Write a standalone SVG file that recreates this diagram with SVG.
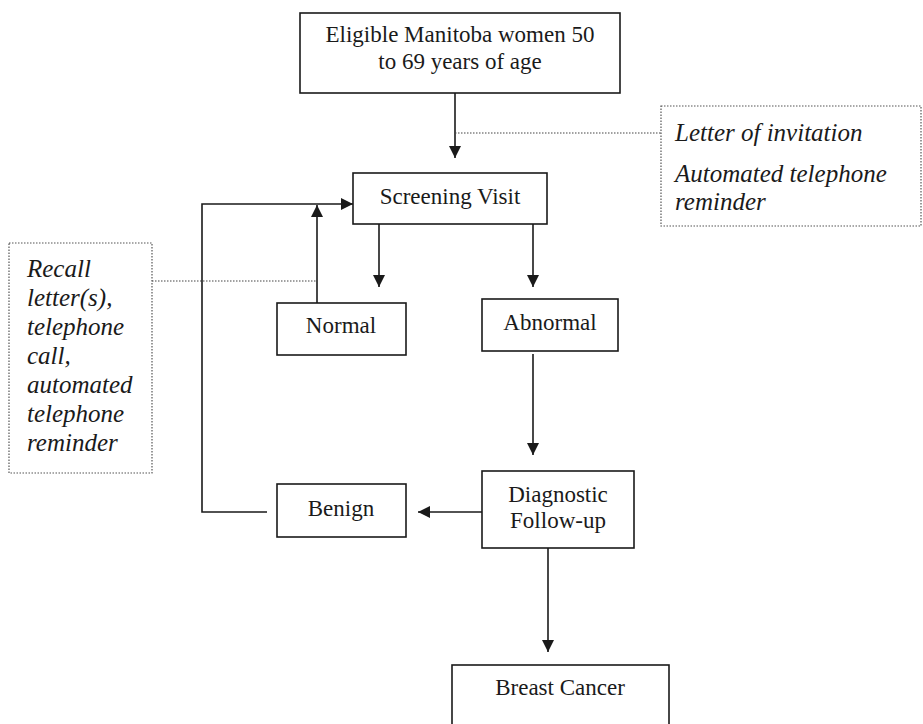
<svg xmlns="http://www.w3.org/2000/svg" width="923" height="724" viewBox="0 0 923 724">
<style>
.box{fill:#fff;stroke:#1a1a1a;stroke-width:1.6}
.note{fill:#fff;stroke:#555;stroke-width:1.2;stroke-dasharray:1.5 1.5}
.t{font-family:"Liberation Serif","Times New Roman",serif;font-size:23px;fill:#1a1a1a}
.i{font-family:"Liberation Serif","Times New Roman",serif;font-size:25px;font-style:italic;fill:#1a1a1a}
.ln{fill:none;stroke:#1a1a1a;stroke-width:1.6}
.dot{fill:none;stroke:#444;stroke-width:1.2;stroke-dasharray:1.5 1.5}
</style>
<defs>
<marker id="ah" viewBox="0 0 12 12" refX="12" refY="6" markerWidth="12" markerHeight="12" markerUnits="userSpaceOnUse" orient="auto">
<path d="M0,0 L12,6 L0,12 Z" fill="#1a1a1a"/>
</marker>
</defs>
<rect width="923" height="724" fill="#fff"/>
<g id="connectors">
<line class="ln" x1="455" y1="93" x2="455" y2="158" marker-end="url(#ah)"/>
<line class="dot" x1="455" y1="133" x2="661" y2="133"/>
<line class="ln" x1="379" y1="224" x2="379" y2="287" marker-end="url(#ah)"/>
<line class="ln" x1="533" y1="224" x2="533" y2="287" marker-end="url(#ah)"/>
<line class="ln" x1="317" y1="303" x2="317" y2="205" marker-end="url(#ah)"/>
<line class="dot" x1="152" y1="281" x2="317" y2="281"/>
<line class="ln" x1="533" y1="354" x2="533" y2="455" marker-end="url(#ah)"/>
<line class="ln" x1="482" y1="512" x2="418" y2="512" marker-end="url(#ah)"/>
<polyline class="ln" points="267,512 202,512 202,204 353,204" marker-end="url(#ah)"/>
<line class="ln" x1="548" y1="548" x2="548" y2="652" marker-end="url(#ah)"/>
</g>
<g id="eligible">
<rect class="box" x="300" y="13" width="320" height="80"/>
<text class="t" x="460" y="42" text-anchor="middle">Eligible Manitoba women 50</text>
<text class="t" x="460" y="69" text-anchor="middle">to 69 years of age</text>
</g>
<g id="invitation-note">
<rect class="note" x="661" y="106" width="260" height="120"/>
<text class="i" x="675" y="141">Letter of invitation</text>
<text class="i" x="675" y="182">Automated telephone</text>
<text class="i" x="675" y="210">reminder</text>
</g>
<g id="screening">
<rect class="box" x="353" y="173" width="194" height="51"/>
<text class="t" x="450" y="204" text-anchor="middle">Screening Visit</text>
</g>
<g id="recall-note">
<rect class="note" x="9" y="243" width="143" height="230"/>
<text class="i" x="27" y="277">Recall</text>
<text class="i" x="27" y="306">letter(s),</text>
<text class="i" x="27" y="335">telephone</text>
<text class="i" x="27" y="364">call,</text>
<text class="i" x="27" y="393">automated</text>
<text class="i" x="27" y="422">telephone</text>
<text class="i" x="27" y="451">reminder</text>
</g>
<g id="normal">
<rect class="box" x="277" y="303" width="129" height="52"/>
<text class="t" x="341" y="333" text-anchor="middle">Normal</text>
</g>
<g id="abnormal">
<rect class="box" x="482" y="299" width="136" height="52"/>
<text class="t" x="550" y="330" text-anchor="middle">Abnormal</text>
</g>
<g id="diagnostic">
<rect class="box" x="482" y="471" width="152" height="77"/>
<text class="t" x="558" y="502" text-anchor="middle">Diagnostic</text>
<text class="t" x="558" y="528" text-anchor="middle">Follow-up</text>
</g>
<g id="benign">
<rect class="box" x="277" y="484" width="129" height="53"/>
<text class="t" x="341" y="516" text-anchor="middle">Benign</text>
</g>
<g id="cancer">
<rect class="box" x="452" y="665" width="217" height="62"/>
<text class="t" x="560" y="695" text-anchor="middle">Breast Cancer</text>
</g>
</svg>
